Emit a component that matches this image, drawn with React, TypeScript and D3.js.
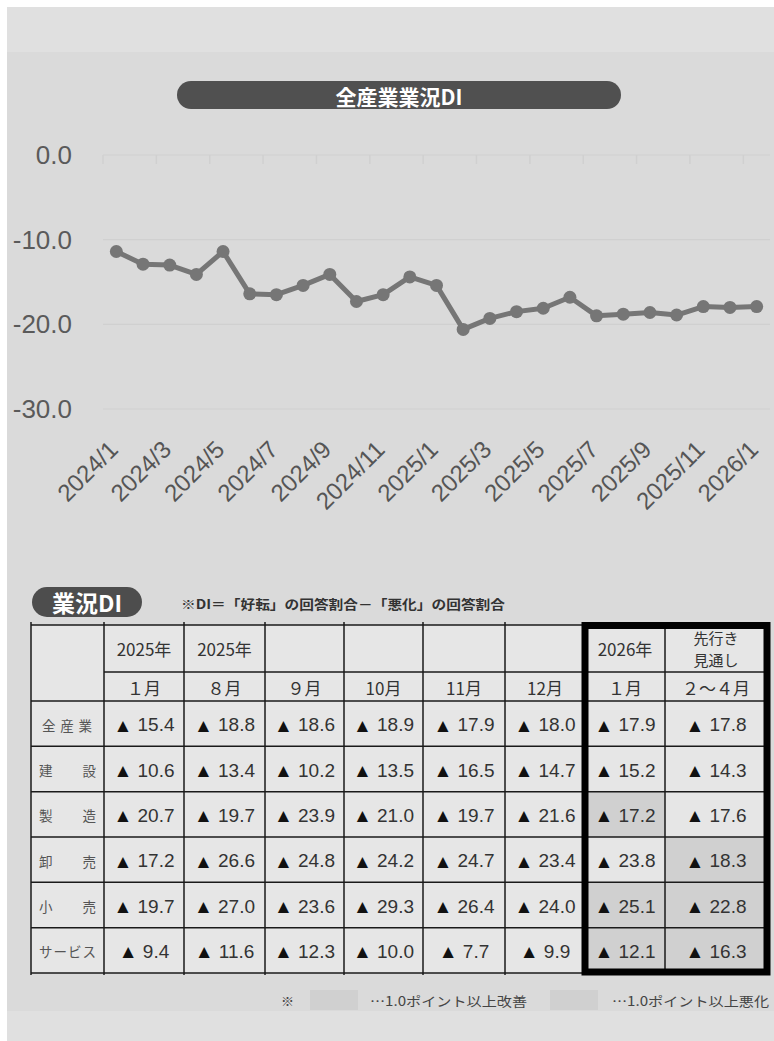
import * as d3 from "d3";

// line chart data (全産業業況DI, monthly)
const months = [
  "2024/1", "2024/2", "2024/3", "2024/4", "2024/5", "2024/6", "2024/7", "2024/8",
  "2024/9", "2024/10", "2024/11", "2024/12", "2025/1", "2025/2", "2025/3", "2025/4",
  "2025/5", "2025/6", "2025/7", "2025/8", "2025/9", "2025/10", "2025/11", "2025/12", "2026/1",
];
const diValues = [
  -11.4, -12.9, -13.0, -14.1, -11.4, -16.4, -16.5, -15.4,
  -14.1, -17.3, -16.5, -14.4, -15.4, -20.6, -19.3, -18.5,
  -18.1, -16.8, -19.0, -18.8, -18.6, -18.9, -17.9, -18.0, -17.9,
];
const yTicks = [0, -10, -20, -30];

// table data
const industries = ["全産業", "建設", "製造", "卸売", "小売", "サービス"];
const headYear = ["2025年", "2025年", "", "", "", "", "2026年", "先行き\n見通し"];
const headMonth = ["１月", "８月", "９月", "10月", "11月", "12月", "１月", "２～４月"];
const tableValues = [
  [-15.4, -18.8, -18.6, -18.9, -17.9, -18.0, -17.9, -17.8],
  [-10.6, -13.4, -10.2, -13.5, -16.5, -14.7, -15.2, -14.3],
  [-20.7, -19.7, -23.9, -21.0, -19.7, -21.6, -17.2, -17.6],
  [-17.2, -26.6, -24.8, -24.2, -24.7, -23.4, -23.8, -18.3],
  [-19.7, -27.0, -23.6, -29.3, -26.4, -24.0, -25.1, -22.8],
  [-9.4, -11.6, -12.3, -10.0, -7.7, -9.9, -12.1, -16.3],
];

const JP = "'Noto Sans CJK JP', 'Noto Sans', sans-serif";
const LAT = "'Liberation Sans', Arial, sans-serif";

const fmt = (v: number) => (v < 0 ? "▲ " : "") + Math.abs(v).toFixed(1);

export default function App() {
  // ---- chart scales
  const x = d3.scaleBand<string>().domain(months).range([103, 770]).padding(0);
  const y = d3.scaleLinear().domain([-30, 0]).range([409, 155]);
  const bw = x.bandwidth();
  const line = d3
    .line<number>()
    .x((_, i) => x(months[i])! + bw / 2)
    .y((d) => y(d));

  // ---- table layout
  const colEdges = [31, 104, 184, 265, 344, 423, 505, 585, 665, 767];
  const tableTop = 625;
  const head1 = 672;
  const head2 = 701;
  const tableBottom = 973;
  const rowY = d3.scaleBand<string>().domain(industries).range([head2, tableBottom]);
  const rh = rowY.bandwidth();

  // shade the latest two columns when they moved by 1.0 point or more
  const shade = (r: number, c: number) => {
    if (c < 6) return false;
    const diff = tableValues[r][c] - tableValues[r][c - 1];
    return Math.abs(diff) >= 1.0;
  };

  const labelLen = (s: string) => (s.length === 3 ? 50 : 57);

  return (
    <>
      <style>{`body{margin:0;overflow:hidden}`}</style>
      <svg width={774} height={1041} viewBox="0 0 774 1041"
        style={{ display: "block", position: "absolute", left: 0, top: 0 }}>
        {/* backgrounds */}
        <rect x={0} y={0} width={774} height={1041} fill="#ffffff" />
        <rect x={7} y={7} width={767} height={45} fill="#e0e0e0" />
        <rect x={7} y={52} width={767} height={959} fill="#dadada" />
        <rect x={7} y={1011} width={767} height={30} fill="#e0e0e0" />

        {/* title pill */}
        <rect x={177} y={81} width={444} height={28} rx={14} fill="#505050" />
        <text x={399} y={96} fill="#fff" fontFamily={JP} fontWeight="bold" fontSize={21}
          textAnchor="middle" dominantBaseline="central">全産業業況DI</text>

        {/* grid + y labels */}
        {yTicks.map((t) => (
          <g key={t}>
            <line x1={103} x2={770} y1={y(t)} y2={y(t)} stroke="#d0d0d0" strokeWidth={1.2} />
            <text x={72} y={y(t)} textAnchor="end" dominantBaseline="central"
              fontFamily={LAT} fontSize={26} fill="#5a5a5a">{t.toFixed(1)}</text>
          </g>
        ))}
        {/* category ticks on zero line */}
        {months.filter((_, i) => i % 2 === 0).map((m) => (
          <line key={m} x1={x(m)!} x2={x(m)!} y1={y(0)} y2={y(0) + 9} stroke="#d0d0d0" strokeWidth={1.5} />
        ))}
        {/* x labels */}
        {months.filter((_, i) => i % 2 === 0).map((m) => {
          const cx = x(m)! + bw / 2 + 3;
          return (
            <text key={m} transform={`translate(${cx},451) rotate(-45)`} textAnchor="end"
              fontFamily={LAT} fontSize={24} fill="#555">{m}</text>
          );
        })}

        {/* line + markers */}
        <path d={line(diValues)!} fill="none" stroke="#767676" strokeWidth={5} strokeLinejoin="round" />
        {diValues.map((v, i) => (
          <circle key={i} cx={x(months[i])! + bw / 2} cy={y(v)} r={6.5} fill="#767676" />
        ))}

        {/* table heading */}
        <rect x={32} y={587} width={110} height={30} rx={15} fill="#4d4d4d" />
        <text x={87} y={602} fill="#fff" fontFamily={JP} fontWeight="bold" fontSize={23}
          textAnchor="middle" dominantBaseline="central">業況DI</text>
        <text x={181} y={603} fontFamily={JP} fontWeight="bold" fontSize={13} fill="#333"
          dominantBaseline="central" textLength={324} lengthAdjust="spacingAndGlyphs">
          ※DI＝「好転」の回答割合－「悪化」の回答割合
        </text>

        {/* table cells */}
        <rect x={colEdges[0]} y={tableTop} width={colEdges[9] - colEdges[0]} height={tableBottom - tableTop} fill="#e6e6e6" />
        {tableValues.map((row, r) =>
          row.map((v, c) => {
            const x0 = colEdges[c + 1];
            const x1 = colEdges[c + 2];
            const yy = rowY(industries[r])!;
            return (
              <g key={`${r}-${c}`}>
                {shade(r, c) && <rect x={x0} y={yy} width={x1 - x0} height={rh} fill="#d0d0d0" />}
                <text x={(x0 + x1) / 2} y={yy + rh / 2 + 1} textAnchor="middle" dominantBaseline="central"
                  fontFamily={LAT} fontSize={19} fill="#333">
                  <tspan fill="#111">{fmt(v).slice(0, 2)}</tspan>{fmt(v).slice(2)}
                </text>
              </g>
            );
          })
        )}
        {/* row labels */}
        {industries.map((s) => (
          <text key={s} x={s.length === 3 ? 42 : 39} y={rowY(s)! + rh / 2 + 1} dominantBaseline="central"
            fontFamily={JP} fontSize={13.5} fill="#555" textLength={labelLen(s)} lengthAdjust="spacing">{s}</text>
        ))}
        {/* header texts */}
        {headYear.map((s, c) => {
          const cx = (colEdges[c + 1] + colEdges[c + 2]) / 2;
          const lines = s.split("\n");
          return lines.map((ln, k) => (
            <text key={`${c}-${k}`} x={cx} y={lines.length > 1 ? 637 + k * 22 : 648}
              textAnchor="middle" dominantBaseline="central" fontFamily={JP}
              fontSize={lines.length > 1 ? 15 : 17} fill="#333">{ln}</text>
          ));
        })}
        {headMonth.map((s, c) => (
          <text key={c} x={(colEdges[c + 1] + colEdges[c + 2]) / 2} y={687}
            textAnchor="middle" dominantBaseline="central" fontFamily={JP} fontSize={17} fill="#333">{s}</text>
        ))}

        {/* grid lines */}
        {colEdges.map((cx, i) => (
          <line key={i} x1={cx} x2={cx} y1={tableTop - 3} y2={tableBottom + 2} stroke="#1a1a1a" strokeWidth={1.5} />
        ))}
        <line x1={colEdges[0]} x2={colEdges[9]} y1={tableTop} y2={tableTop} stroke="#1a1a1a" strokeWidth={1.5} />
        <line x1={colEdges[1]} x2={colEdges[9]} y1={head1} y2={head1} stroke="#1a1a1a" strokeWidth={1.5} />
        {[head2, ...industries.map((s) => rowY(s)! + rh)].map((yy, i) => (
          <line key={i} x1={colEdges[0]} x2={colEdges[9]} y1={yy} y2={yy} stroke="#1a1a1a" strokeWidth={1.5} />
        ))}
        {/* thick frame around latest columns */}
        <rect x={colEdges[7]} y={625.5} width={colEdges[9] - colEdges[7]} height={346.5}
          fill="none" stroke="#000" strokeWidth={7} />

        {/* legend */}
        <text x={281} y={1000} dominantBaseline="central" fontFamily={JP} fontSize={13} fill="#444">※</text>
        <rect x={310} y={990} width={48} height={20} fill="#d0d0d0" />
        <text x={370} y={1000} dominantBaseline="central" fontFamily={JP} fontSize={13} fill="#444"
          textLength={157} lengthAdjust="spacingAndGlyphs">…1.0ポイント以上改善</text>
        <rect x={550} y={990} width={48} height={20} fill="#d0d0d0" />
        <text x={612} y={1000} dominantBaseline="central" fontFamily={JP} fontSize={13} fill="#444"
          textLength={157} lengthAdjust="spacingAndGlyphs">…1.0ポイント以上悪化</text>
      </svg>
    </>
  );
}
